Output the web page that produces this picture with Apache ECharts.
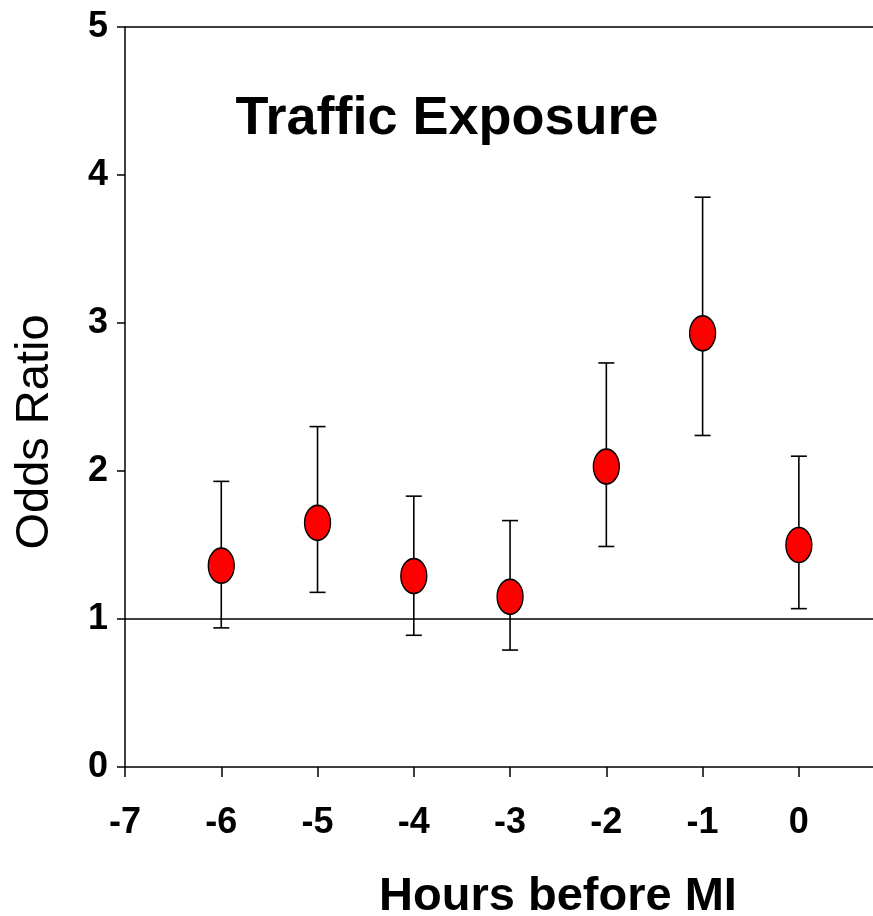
<!DOCTYPE html>
<html>
<head>
<meta charset="utf-8">
<script src="https://cdn.jsdelivr.net/npm/echarts@6/dist/echarts.min.js"></script>
<style>
html,body{margin:0;padding:0;background:#fff;}
#chart{width:873px;height:916px;}
</style>
</head>
<body>
<div id="chart"></div>
<script>
const hours = [-6, -5, -4, -3, -2, -1, 0];
const oddsRatio = [1.36, 1.65, 1.29, 1.15, 2.03, 2.93, 1.50];
const ciLower = [0.94, 1.18, 0.89, 0.79, 1.49, 2.24, 1.07];
const ciUpper = [1.93, 2.30, 1.83, 1.665, 2.73, 3.85, 2.10];
const xTicks = [-7, -6, -5, -4, -3, -2, -1, 0];
const yTicks = [0, 1, 2, 3, 4, 5];
const titleText = 'Traffic Exposure';
const xTitle = 'Hours before MI';
const yTitle = 'Odds Ratio';

const font = '"Liberation Sans", Arial, sans-serif';
const chart = echarts.init(document.getElementById('chart'), null, {renderer: 'canvas'});

const pointData = hours.map((h, i) => [h, oddsRatio[i]]);
const errData = hours.map((h, i) => [h, ciLower[i], ciUpper[i]]);

chart.setOption({
  animation: false,
  backgroundColor: '#ffffff',
  grid: {left: 125, right: 0, top: 27, bottom: 149, containLabel: false},
  xAxis: [{
    type: 'value', min: -7, max: 0.77, interval: 1,
    axisLine: {show: true, onZero: false, lineStyle: {color: '#000', width: 1.5}},
    axisTick: {show: true, inside: false, length: 10, lineStyle: {color: '#000', width: 1.5}},
    axisLabel: {
      margin: 38, color: '#000', fontFamily: font, fontWeight: 'bold', fontSize: 36,
      showMaxLabel: false,
      formatter: v => xTicks.includes(v) ? String(v) : ''
    },
    splitLine: {show: false}
  }, {
    type: 'value', position: 'top', min: -7, max: 0.77, interval: 1,
    axisLine: {show: true, onZero: false, lineStyle: {color: '#000', width: 1.5}},
    axisTick: {show: false}, axisLabel: {show: false}, splitLine: {show: false}
  }],
  yAxis: {
    type: 'value', min: 0, max: 5, interval: 1,
    axisLine: {show: true, onZero: false, lineStyle: {color: '#000', width: 1.5}},
    axisTick: {show: true, inside: false, length: 8, lineStyle: {color: '#000', width: 1.5}},
    axisLabel: {
      margin: 17, color: '#000', fontFamily: font, fontWeight: 'bold', fontSize: 36,
      formatter: v => yTicks.includes(v) ? String(v) : ''
    },
    splitLine: {show: false}
  },
  series: [{
    type: 'custom',
    name: 'CI',
    data: errData,
    z: 2,
    renderItem: function (params, api) {
      const x = api.value(0);
      const lo = api.coord([x, api.value(1)]);
      const hi = api.coord([x, api.value(2)]);
      const cap = 8;
      const style = {stroke: '#000', lineWidth: 1.6};
      return {
        type: 'group',
        children: [
          {type: 'line', shape: {x1: lo[0], y1: lo[1], x2: hi[0], y2: hi[1]}, style: style},
          {type: 'line', shape: {x1: lo[0] - cap, y1: lo[1], x2: lo[0] + cap, y2: lo[1]}, style: style},
          {type: 'line', shape: {x1: hi[0] - cap, y1: hi[1], x2: hi[0] + cap, y2: hi[1]}, style: style}
        ]
      };
    }
  }, {
    type: 'scatter',
    name: 'Odds Ratio',
    data: pointData,
    z: 3,
    symbol: 'circle',
    symbolSize: [26, 35],
    itemStyle: {color: '#ff0000', borderColor: '#000', borderWidth: 1.5, opacity: 1},
    markLine: {
      silent: true,
      symbol: ['none', 'none'],
      label: {show: false},
      lineStyle: {color: '#000', width: 1.5, type: 'solid'},
      data: [{yAxis: 1}]
    }
  }],
  graphic: [{
    type: 'text', x: 447, y: 119,
    style: {text: titleText, font: 'bold 54px ' + font, fill: '#000', align: 'center', verticalAlign: 'middle'}
  }, {
    type: 'text', x: 558, y: 897,
    style: {text: xTitle, font: 'bold 47px ' + font, fill: '#000', align: 'center', verticalAlign: 'middle'}
  }, {
    type: 'text', x: 35, y: 432, rotation: Math.PI / 2,
    style: {text: yTitle, font: '47px ' + font, fill: '#000', align: 'center', verticalAlign: 'middle'}
  }]
});
</script>
</body>
</html>
